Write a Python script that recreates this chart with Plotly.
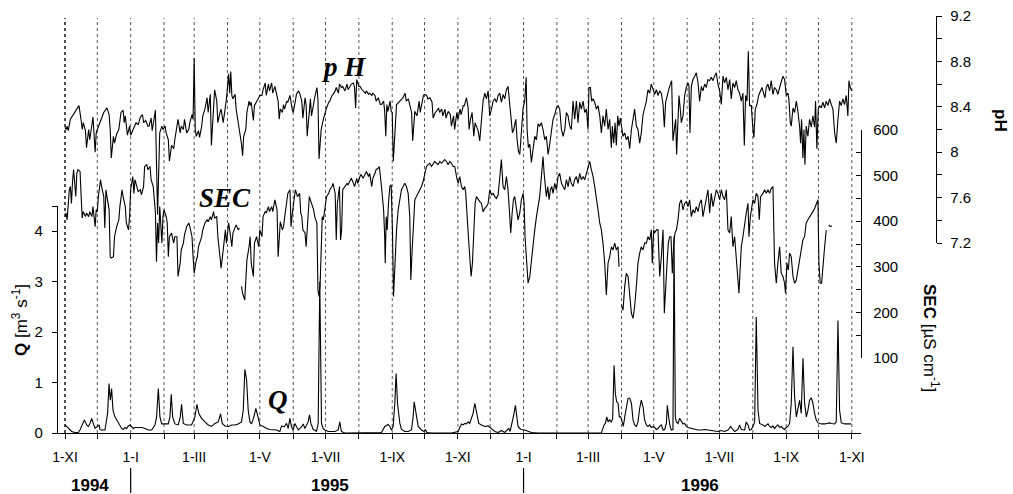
import pandas as pd
import plotly.graph_objects as go

# ---------------- data (days counted from 1 Nov 1994) ----------------
PH_DAY = [0,1,2,3,5,7,9,11,13,15,16,17,19,20,22,23,25,26,28,29,30,32,34,36,39,41,42,43,45,46,48,50,52,54,55,56,58,60,61,63,66,68,70,72,73,75,77,78,80,81,83,84,86,88,90,91,93,94,96,97,99,101,102,104,105,107,108,110,111,113,115,116,118,119,120,121,122,124,125,127,128,130,132,133,135,136,138,139,141,142,144,145,147,149,150,152,153,154,155,156,158,159,161,162,164,165,166,168,169,171,172,173,175,176,178,180,181,183,184,186,
          187,189,190,192,193,195,197,198,199,200,202,203,204,206,207,209,211,212,214,215,217,218,220,221,223,224,225,227,228,229,231,232,234,235,236,237,238,240,241,243,245,246,248,249,251,252,254,255,257,258,260,262,263,265,266,268,269,270,271,273,274,276,277,279,280,282,283,285,286,288,289,291,293,294,296,297,298,299,300,302,303,304,305,307,308,310,311,313,314,316,317,319,320,322,323,324,325,327,328,329,330,332,333,334,336,337,339,341,342,344,345,347,348,350,351,353,354,356,358,359,361,362,364,365,367,368,370,371,
          373.0,374.5,375.4,376.7,378.2,379.8,381.0,382.2,383.8,385.3,386.9,388.4,390.0,391.5,393.1,394.6,396.2,397.7,399.3,400.8,402.4,403.9,405.4,407.0,408.5,410.1,411.6,413.2,414.7,415.7,416.9,418.8,420.0,421.2,422.5,424.0,425.6,427.1,428.4,429.3,430.5,431.8,433.3,434.9,436.4,438.0,439.5,441.0,442.6,444.1,445.7,447.2,448.8,450.3,451.9,453.4,455.0,456.5,458.1,459.6,461.2,462.7,464.3,465.8,467.4,468.9,470.4,472.0,473.5,475.1,476.6,478.2,479.7,481.3,482.8,484.4,485.9,486.8,488.1,489.3,490.6,492.1,493.7,495.2,496.8,498.3,499.8,501.4,502.9,504.5,506.0,507.6,508.5,509.8,511.0,512.2,513.5,514.7,515.9,517.2,518.4,520.0,521.5,523.1,524.6,526.2,527.7,529.2,530.8,532.3,533.9,535.4,537.0,538.5,540.1,541.6,543.2,544.7,546.3,547.8,549.4,550.9,
          552.5,554.0,555.6,556.8,558.0,559.3,560.8,562.4,563.6,564.8,566.1,567.3,568.2,569.5,570.4,571.6,572.6,574.1,575.7,577.2,578.8,579.7,580.6,581.9,583.4,585.0,586.5,588.1,589.6,591.2,592.7,594.2,595.8,597.3,598.9,600.4,602.0,603.5,605.1,606.6,608.2,609.7,611.3,612.8,614.4,615.9,617.5,619.0,620.5,622.1,623.6,625.2,626.7,628.3,629.8,631.1,632.3,633.6,634.8,636.0,637.6,639.1,640.0,641.3,642.8,644.4,645.9,647.5,649.0,650.3,651.5,653.0,654.6,656.1,657.7,659.2,660.8,662.3,663.9,665.4,667.0,668.5,670.1,671.6,672.5,673.8,674.7,676.3,677.8,679.4,680.9,682.5,683.4,684.3,685.5,686.5,687.4,688.6,690.2,691.7,693.3,694.8,696.4,697.3,698.5,699.8,701.0,702.6,704.1,705.7,707.2,708.8,710.3,711.9,713.4,715.0,716.5,718.0,719.6,721.1,722.7,724.2,725.8,727.3,728.3,729.5,731.0]
PH_VAL = [8.22,8.20,8.23,8.19,8.29,8.32,8.35,8.39,8.41,8.28,8.20,8.26,8.19,8.04,8.20,8.11,8.23,8.31,8.00,8.17,8.20,8.25,8.29,8.35,8.39,8.33,8.20,7.95,8.14,8.08,8.16,8.20,8.35,8.37,8.26,8.32,8.15,8.23,8.15,8.20,8.26,8.24,8.31,8.33,8.26,8.28,8.23,8.23,8.30,8.19,8.33,8.37,7.45,8.17,8.23,8.20,8.23,8.17,8.11,7.92,8.06,8.03,8.11,8.23,8.29,8.17,8.23,8.20,8.29,8.17,8.20,8.26,8.33,8.29,8.83,8.20,8.14,8.19,8.13,8.23,8.32,8.38,8.48,8.35,8.51,8.06,8.35,8.55,8.45,8.26,8.35,8.38,8.26,8.38,8.47,8.69,8.52,8.71,8.50,8.47,8.51,8.38,8.26,8.20,8.07,7.97,8.14,8.20,8.35,8.45,8.41,8.44,8.28,8.41,8.45,8.48,8.50,8.50,8.55,8.61,
          8.50,8.60,8.54,8.61,8.52,8.58,8.50,8.45,8.29,8.38,8.35,8.42,8.38,8.45,8.44,8.50,8.38,8.35,8.45,8.51,8.54,8.52,8.45,8.30,8.48,8.42,8.14,8.38,8.47,8.32,8.45,8.48,8.57,8.47,7.94,8.08,8.20,8.29,8.33,8.39,8.44,8.45,8.50,8.51,8.54,8.57,8.52,8.60,8.57,8.58,8.54,8.60,8.55,8.58,8.60,8.61,8.57,8.39,8.64,8.58,8.58,8.55,8.54,8.52,8.54,8.51,8.52,8.50,8.52,8.50,8.45,8.48,8.42,8.42,8.45,8.36,8.14,8.42,8.36,8.45,8.36,8.35,7.92,8.29,8.42,8.44,8.45,8.47,8.48,8.52,8.45,8.47,8.42,8.35,8.10,8.26,8.36,8.32,8.39,8.45,8.35,8.44,8.50,8.51,8.50,8.47,8.48,8.44,8.30,8.35,8.36,8.39,8.35,8.38,8.32,8.38,8.30,8.36,8.33,8.23,8.32,8.20,8.35,8.29,8.38,8.33,8.41,8.41,
          8.48,8.39,8.20,8.29,8.35,8.14,8.26,8.23,8.19,8.10,8.32,8.45,8.52,8.47,8.54,8.32,8.38,8.45,8.47,8.44,8.50,8.52,8.44,8.51,8.47,8.55,8.58,8.41,8.32,8.17,8.20,8.29,8.11,8.01,7.98,8.20,8.39,8.45,8.66,8.20,8.04,8.07,7.91,8.03,8.14,8.11,8.25,8.23,8.26,8.20,8.11,8.14,7.98,8.07,8.20,8.29,8.33,8.39,8.41,8.38,8.20,8.14,8.20,8.35,8.32,8.23,8.20,8.45,8.29,8.45,8.26,8.44,8.38,8.45,8.35,8.38,8.20,8.57,8.57,8.45,8.47,8.44,8.38,8.41,8.32,8.17,8.32,8.23,8.38,8.20,8.29,8.04,8.23,8.08,8.26,8.06,8.32,8.23,8.30,8.23,8.14,8.17,8.11,8.14,8.03,8.20,8.29,8.38,8.23,8.20,8.08,8.17,8.33,8.38,8.45,8.55,8.52,8.60,8.54,8.51,8.55,8.50,
          8.54,8.52,8.42,8.22,8.44,8.50,8.55,8.60,8.63,8.10,8.23,8.29,7.98,8.32,8.50,8.38,8.26,8.32,8.50,8.57,8.61,8.58,8.17,8.58,8.64,8.67,8.70,8.61,8.45,8.58,8.54,8.60,8.57,8.64,8.63,8.66,8.63,8.67,8.70,8.60,8.54,8.42,8.67,8.61,8.66,8.55,8.64,8.47,8.61,8.57,8.63,8.55,8.52,8.45,8.52,8.06,8.50,8.45,8.89,8.41,8.41,8.20,8.13,8.38,8.42,8.50,8.54,8.57,8.52,8.48,8.57,8.60,8.54,8.63,8.51,8.57,8.55,8.51,8.57,8.63,8.67,8.64,8.50,8.52,8.47,8.26,8.23,8.39,8.35,8.45,8.36,8.22,8.08,8.29,7.95,8.20,7.89,8.23,8.14,8.29,8.22,8.32,8.22,8.45,8.03,8.38,8.41,8.39,8.44,8.39,8.45,8.41,8.47,8.42,8.38,8.17,8.08,8.28,8.45,8.41,8.47,8.42,8.50,8.32,8.63,8.57,8.54]

SEC_DAY = [0,1,2,3,4,5,6,7,8,10,11,12,14,15,16,17,19,20,22,23,25,26,28,29,30,31,33,34,36,37,38,39,41,42,43,45,46,48,50,51,53,54,56,57,59,60,61,63,64,65,67,68,70,71,73,74,76,77,79,80,82,84,85,86,87,88,90,91,92,94,95,96,97,99,101,102,104,105,107,108,110,111,113,115,116,118,119,120,122,123,124,125,127,128,130,132,133,135,136,138,139,141,142,144,145,147,149,150,152,153,155,156,158,159,161,162,163,164,165,167,168,169,171,172,173,175,176,178,180,181,183,184,186,
           187,189,190,192,193,195,197,198,199,200,202,203,204,206,207,209,210,211,213,214,216,218,219,220,221,223,224,225,226,227,229,231,232,234,235,236,237,239,240,242,243,245,246,248,249,251,252,253,254,255,256,257,258,260,262,263,265,266,268,269,271,272,274,275,277,279,280,282,283,285,286,288,289,291,292,294,296,297,297.5,298.4,299.3,300.5,301.8,303.0,304.2,305.2,306.4,308.0,309.5,311.1,312.6,314.1,315.7,317.2,318.8,320.3,321.3,322.5,323.7,325.0,326.5,328.1,329.6,331.2,332.7,334.3,335.8,337.4,338.9,340.5,342.0,343.5,345.1,346.6,348.2,349.7,351.3,352.8,354.4,355.9,357.5,359.0,360.6,362.1,363.7,365.2,366.8,368.3,369.9,371.4,
           372.3,373.6,374.8,376.0,377.3,378.5,379.8,381.0,382.2,383.8,385.3,386.9,388.4,390.0,391.5,393.1,394.6,396.2,397.7,399.3,400.8,402.4,403.9,405.4,407.0,408.5,410.1,411.6,413.2,414.1,415.4,416.6,417.8,419.4,420.9,422.5,424.0,425.6,426.5,427.4,428.7,430.2,431.8,433.3,434.9,436.4,438.0,439.5,441.0,442.6,444.1,445.1,446.3,447.2,448.5,449.7,451.0,452.2,453.4,455.0,456.5,458.1,459.6,461.2,462.7,464.3,465.8,467.4,468.9,470.4,472.0,473.5,475.1,476.6,478.2,479.7,481.3,482.8,484.4,485.9,487.5,489.0,490.6,492.1,493.7,495.2,496.8,498.3,499.8,501.4,502.9,504.5,506.0,507.6,509.1,510.7,512.2,513.8,514.7,515.5,516.9,518.4,520.0,521.5,523.1,524.6,526.2,527.7,529.2,530.8,532.3,533.9,535.4,537.0,538.5,540.1,541.6,543.2,544.7,545.6,546.9,547.8,549.4,550.9,
           552.5,554.0,555.6,556.8,558.0,559.3,560.5,561.7,563.0,564.2,565.5,566.7,568.0,569.5,571.0,572.6,574.1,575.7,577.2,578.8,580.3,581.9,583.4,585.0,586.5,588.1,589.6,591.2,592.7,594.2,595.8,597.3,598.9,600.4,602.0,603.5,605.1,606.6,608.2,609.7,611.3,612.8,614.4,615.9,617.5,619.0,620.5,622.1,623.6,625.2,626.1,627.4,628.3,629.8,631.4,632.9,634.5,635.4,636.7,637.9,639.1,640.7,642.2,643.8,645.0,646.2,648.4,650.0,651.5,653.0,654.6,656.1,657.7,659.2,660.8,662.3,663.9,665.4,667.0,668.5,669.4,670.7,672.0,673.2,674.7,676.3,677.8,679.4,680.9,682.5,684.0,685.5,687.1,688.6,690.2,691.7,693.3,694.8,696.4,697.9,699.5,700.4,701.6,702.9,704.1,705.7,707.2,708.0,709.5,711.0,712.5]
SEC_VAL = [410,418,403,439,469,476,439,487,513,454,505,513,509,454,407,421,410,418,410,421,410,432,388,425,421,454,491,476,454,385,469,454,425,322,319,322,366,388,403,432,469,454,432,396,381,410,469,498,461,491,469,465,469,458,476,520,524,513,520,491,476,418,311,396,352,432,352,410,425,410,396,322,366,374,352,366,366,279,308,337,352,370,388,396,388,366,322,286,315,322,344,352,366,381,396,403,399,410,403,421,407,410,366,322,297,337,381,352,396,381,344,374,388,392,381,385,None,257,242,227,279,315,344,366,308,279,352,366,344,381,366,410,421,
           418,432,421,432,421,447,425,322,366,399,381,388,407,439,461,469,388,414,447,469,454,461,418,410,381,374,344,388,418,454,439,425,410,396,249,235,260,410,403,439,454,461,469,476,483,461,359,439,454,476,359,381,469,476,483,480,491,494,483,476,494,483,498,502,494,505,509,498,505,476,494,505,513,516,520,476,425,366,308,410,381,439,476,480,381,235,308,381,425,447,469,476,483,476,461,410,271,337,410,447,454,461,469,476,487,505,520,524,527,520,527,531,527,524,531,527,531,535,531,524,531,527,520,520,498,483,498,476,469,476,
           461,396,366,322,279,308,381,439,454,447,443,439,421,428,432,439,469,458,461,454,450,458,491,535,476,469,498,469,410,374,418,447,454,425,403,418,447,461,439,366,308,264,279,315,344,381,410,432,454,498,542,505,469,454,476,447,469,476,461,483,469,498,505,483,476,469,491,476,498,483,476,491,498,483,505,491,498,491,505,520,531,513,498,476,454,425,396,381,352,308,238,308,322,344,337,352,337,344,300,None,216,205,257,286,279,235,198,187,213,257,308,330,344,337,352,352,366,359,381,308,381,374,381,381,
           279,322,381,198,264,308,352,366,366,286,352,374,381,403,439,447,425,439,443,432,447,410,425,418,432,421,439,447,410,432,454,469,418,461,432,454,469,461,447,469,454,447,469,381,374,410,344,366,308,271,242,308,344,366,396,418,439,366,410,432,447,439,461,454,403,454,461,469,461,469,461,472,476,308,264,308,344,286,279,264,242,308,293,330,322,279,264,271,293,315,337,359,366,396,403,410,414,421,428,439,447,308,264,264,308,344,380,None,392,388,390]

Q_DAY = [0.0,3.1,6.2,9.3,12.4,13.9,15.5,18.0,20.1,21.7,23.2,24.8,26.3,27.9,30.3,31.6,32.5,34.0,37.1,39.6,40.9,42.1,43.3,44.6,46.4,48.0,49.5,51.1,52.6,54.2,55.7,57.3,58.8,60.4,61.9,63.4,65.0,68.1,71.2,74.3,77.4,80.5,83.6,85.1,86.7,88.2,89.8,92.9,95.9,97.5,98.7,100.0,102.1,105.2,107.1,108.3,109.9,113.0,117.6,120.7,122.6,124.4,126.9,130.0,133.1,136.2,139.3,142.4,144.5,146.1,148.6,151.7,154.8,157.8,160.9,164.0,165.6,167.1,168.7,170.2,171.8,173.3,175.5,177.3,178.9,181.1,184.2,187.3,190.3,193.4,196.5,199.6,201.2,203.6,205.8,207.4,208.9,210.5,212.0,213.6,215.1,216.7,219.7,221.3,222.8,224.4,225.9,227.2,228.4,230.6,232.1,233.7,235.2,236.7,238.3,239.8,241.4,244.5,247.6,250.7,253.8,255.3,256.8,260.0,263.1,269.3,275.5,281.6,287.8,294.0,297.1,298.7,300.2,301.8,303.3,304.9,306.4,307.6,308.9,311.1,312.6,315.7,318.8,321.9,323.4,324.4,325.6,328.1,331.2,333.6,334.9,336.1,340.5,346.6,352.9,359.0,365.2,
         366.8,368.3,369.9,371.4,372.9,374.5,376.0,377.6,379.1,380.7,381.9,383.2,384.4,386.9,390.0,393.1,396.2,397.7,399.3,402.4,405.5,408.5,411.0,412.3,413.5,415.4,417.2,418.4,419.7,420.9,422.5,424.0,427.1,428.7,430.2,433.3,439.5,455.0,470.4,485.9,498.3,500.8,502.0,503.3,504.5,506.0,507.6,508.8,510.1,511.3,512.5,513.8,515.0,516.3,517.5,518.7,520.0,521.5,523.1,524.6,526.2,527.7,529.2,530.8,532.3,533.9,535.4,537.0,538.5,540.1,541.6,543.2,544.7,546.3,547.8,549.4,550.9,552.5,554.0,555.6,557.1,558.7,559.6,560.8,562.1,563.3,564.8,565.8,567.0,567.9,569.5,571.0,572.6,574.1,575.7,577.2,578.8,581.9,585.0,588.1,591.2,594.2,597.3,600.4,603.5,606.6,609.7,612.8,615.9,618.4,620.5,622.1,625.2,626.7,628.3,631.4,632.9,634.5,636.0,637.6,639.1,640.7,642.2,643.8,645.3,646.9,648.4,650.0,651.5,653.1,654.6,656.1,657.7,659.2,660.8,662.3,663.9,665.4,667.0,668.5,670.1,671.6,673.2,674.7,676.3,677.8,679.4,680.9,682.5,684.0,685.6,687.1,688.7,690.2,691.7,693.3,694.8,696.4,697.9,699.5,702.6,705.7,708.8,710.3,711.9,715.0,716.5,718.1,719.6,721.2,724.3,727.3,730.4]
Q_VAL = [0.16,0.09,0.03,0.01,0.01,0.06,0.13,0.26,0.16,0.13,0.19,0.29,0.19,0.09,0.13,0.16,0.07,0.06,0.06,0.39,0.98,0.65,0.88,0.45,0.32,0.26,0.19,0.16,0.09,0.07,0.11,0.09,0.14,0.16,0.13,0.09,0.11,0.11,0.11,0.09,0.06,0.06,0.16,0.32,0.88,0.32,0.18,0.18,0.18,0.32,0.77,0.32,0.18,0.16,0.32,0.57,0.19,0.16,0.16,0.32,0.57,0.38,0.29,0.22,0.16,0.13,0.19,0.22,0.38,0.19,0.14,0.13,0.16,0.16,0.18,0.22,0.45,1.26,1.05,0.45,0.22,0.18,0.32,0.49,0.32,0.16,0.13,0.09,0.07,0.06,0.06,0.03,0.14,0.12,0.19,0.09,0.29,0.12,0.06,0.19,0.12,0.06,0.12,0.18,0.09,0.16,0.22,0.36,0.19,0.07,0.06,0.03,0.19,3.0,0.19,0.09,0.06,0.03,0.03,0.03,0.06,0.22,0.03,0.0,0.0,0.0,0.0,0.0,0.0,0.01,0.13,0.16,0.17,0.13,0.06,0.13,0.59,1.18,0.59,0.19,0.07,0.03,0.03,0.06,0.32,0.62,0.45,0.13,0.06,0.03,0.07,0.01,0.0,0.0,0.0,0.0,0.03,
         0.13,0.18,0.16,0.19,0.18,0.22,0.19,0.29,0.39,0.59,0.45,0.29,0.19,0.16,0.13,0.14,0.09,0.06,0.03,0.01,0.05,0.01,0.07,0.09,0.03,0.19,0.39,0.55,0.32,0.13,0.09,0.07,0.06,0.05,0.03,0.01,0.0,0.0,0.01,0.0,0.0,0.16,0.19,0.32,0.22,0.26,0.22,0.29,1.34,0.78,0.62,0.59,0.32,0.32,0.19,0.13,0.32,0.55,0.69,0.69,0.59,0.26,0.16,0.13,0.22,0.49,0.65,0.52,0.26,0.16,0.13,0.16,0.11,0.13,0.11,0.07,0.09,0.13,0.16,0.06,0.07,0.19,0.55,0.32,0.13,0.06,0.07,3.9,0.32,0.22,0.19,0.29,0.22,0.18,0.19,0.13,0.11,0.09,0.07,0.06,0.06,0.07,0.06,0.05,0.05,0.03,0.05,0.03,0.06,0.13,0.07,0.03,0.07,0.16,0.07,0.06,0.22,0.16,0.06,0.07,0.13,0.22,2.30,0.45,0.19,0.18,0.16,0.13,0.16,0.18,0.13,0.11,0.14,0.09,0.13,0.16,0.11,0.13,0.09,0.07,0.11,0.13,0.19,0.59,1.71,0.72,0.32,0.45,0.65,0.39,1.48,0.59,0.32,0.45,0.65,0.70,0.59,0.39,0.26,0.20,0.18,0.18,0.19,0.20,0.19,0.18,0.22,2.23,0.45,0.20,0.18,0.18,0.18]

MONTH_LABELS = ["1-XI", "", "1-I", "", "1-III", "", "1-V", "", "1-VII", "", "1-IX", "", "1-XI", "",
                "1-I", "", "1-III", "", "1-V", "", "1-VII", "", "1-IX", "", "1-XI"]
YEAR_LABELS = ["1994", "1995", "1996"]
YEAR_LABEL_DATES = ["1994-11-24", "1995-07-05", "1996-06-13"]
YEAR_BREAKS = ["1995-01-01", "1996-01-01"]
PH_TICKS = [7.2, 7.6, 8.0, 8.4, 8.8, 9.2]
PH_TICKTEXT = ["7.2", "7.6", "8", "8.4", "8.8", "9.2"]

# ---------------- build ----------------
BASE = pd.Timestamp("1994-11-01")
def to_dates(days):
    return [BASE + pd.Timedelta(days=float(d)) for d in days]

W, H = 1013, 494
def px_x(p):
    return p / W
def px_y(p):
    return 1 - p / H

month_dates = list(pd.date_range("1994-11-01", "1996-11-01", freq="MS"))

FONT = "Liberation Sans, Arial, sans-serif"
SERIF = "Liberation Serif, Times New Roman, serif"
line_style = dict(color="black", width=1.1)

fig = go.Figure()
fig.add_trace(go.Scatter(x=to_dates(Q_DAY), y=Q_VAL, mode="lines", line=line_style,
                         xaxis="x", yaxis="y", hoverinfo="skip"))
fig.add_trace(go.Scatter(x=to_dates(SEC_DAY), y=SEC_VAL, mode="lines", line=line_style,
                         connectgaps=False, xaxis="x", yaxis="y2", hoverinfo="skip"))
fig.add_trace(go.Scatter(x=to_dates(PH_DAY), y=PH_VAL, mode="lines", line=line_style,
                         xaxis="x", yaxis="y3", hoverinfo="skip"))

shapes = []
for i, d in enumerate(month_dates):
    shapes.append(dict(type="line", xref="x", yref="paper", x0=d, x1=d,
                       y0=px_y(433), y1=px_y(18), layer="below",
                       line=dict(color="#222" if i == 0 else "#555", width=1.6 if i == 0 else 1, dash="dot")))
for d in YEAR_BREAKS:
    shapes.append(dict(type="line", xref="x", yref="paper", x0=d, x1=d,
                       y0=px_y(493), y1=px_y(468), line=dict(color="black", width=1.2)))

def ann(text, x, y, xref="paper", size=17, family=FONT, angle=0):
    return dict(text=text, x=x, y=y, xref=xref, yref="paper", textangle=angle,
                xanchor="center", yanchor="middle", showarrow=False,
                font=dict(family=family, size=size, color="black"))

annotations = [ann("<b>%s</b>" % lab, d, px_y(485), xref="x") for lab, d in zip(YEAR_LABELS, YEAR_LABEL_DATES)]
annotations += [
    ann("<b>Q</b> [m<sup>3</sup> s<sup>-1</sup>]", px_x(20), px_y(320), angle=-90),
    ann("<b>SEC</b> [µS cm<sup>-1</sup>]", px_x(931), px_y(338), angle=90),
    ann("<b>pH</b>", px_x(1000), px_y(120), angle=90),
    ann("<b><i>p H</i></b>", px_x(344), px_y(67), family=SERIF, size=27),
    ann("<b><i>SEC</i></b>", px_x(225), px_y(198), family=SERIF, size=27),
    ann("<b><i>Q</i></b>", px_x(278), px_y(400), family=SERIF, size=27),
]

tickfont = dict(family=FONT, size=15, color="black")
fig.update_layout(
    template="none",
    width=W, height=H, margin=dict(l=0, r=0, t=0, b=0, pad=0, autoexpand=False),
    paper_bgcolor="white", plot_bgcolor="rgba(0,0,0,0)", showlegend=False,
    xaxis=dict(domain=[px_x(58), px_x(861)], automargin=False,
               range=[BASE - pd.Timedelta(days=6.5), BASE + pd.Timedelta(days=739.5)],
               showline=True, linecolor="black", linewidth=1.2, ticks="outside", ticklen=5,
               tickcolor="black", tickmode="array", tickvals=month_dates, ticktext=MONTH_LABELS,
               showgrid=False, zeroline=False, tickfont=dict(family=FONT, size=14, color="black"),
               ticklabelstandoff=6),
    yaxis=dict(domain=[px_y(433), px_y(206)], range=[0, 4.5], anchor="x", automargin=False,
               showline=True, linecolor="black", linewidth=1.2, ticks="outside", ticklen=5,
               tickcolor="black", tickvals=[0, 1, 2, 3, 4], showgrid=False, zeroline=False,
               tickfont=tickfont, ticklabelstandoff=6,
               minor=dict(tickmode="array", tickvals=[4.5], ticks="outside", ticklen=5, tickcolor="black")),
    yaxis2=dict(domain=[px_y(358), px_y(130)], range=[100, 600], anchor="free", position=px_x(861),
                automargin=False,
                side="right", showline=True, linecolor="black", linewidth=1.2, ticks="inside",
                ticklen=5, tickcolor="black", tickvals=[100, 200, 300, 400, 500, 600],
                showgrid=False, zeroline=False, tickfont=tickfont, ticklabelstandoff=8,
                minor=dict(tickmode="array", tickvals=[150, 250, 350, 450, 550], ticks="inside",
                           ticklen=5, tickcolor="black")),
    yaxis3=dict(domain=[px_y(243), px_y(16)], range=[7.2, 9.2], anchor="free", position=px_x(936),
                automargin=False,
                side="right", showline=True, linecolor="black", linewidth=1.2, ticks="outside",
                ticklen=5, tickcolor="black", tickvals=PH_TICKS, ticktext=PH_TICKTEXT,
                showgrid=False, zeroline=False, tickfont=tickfont, ticklabelstandoff=5,
                minor=dict(tickmode="array", tickvals=[7.4, 7.8, 8.2, 8.6, 9.0], ticks="outside",
                           ticklen=5, tickcolor="black")),
    shapes=shapes, annotations=annotations,
)

# remove the browser's default 8px page margin so the figure sits at the window's origin
fig.write_html("out.html", config={"displayModeBar": False, "staticPlot": True},
               post_script="document.body.style.margin='0';document.body.style.overflow='hidden';")
